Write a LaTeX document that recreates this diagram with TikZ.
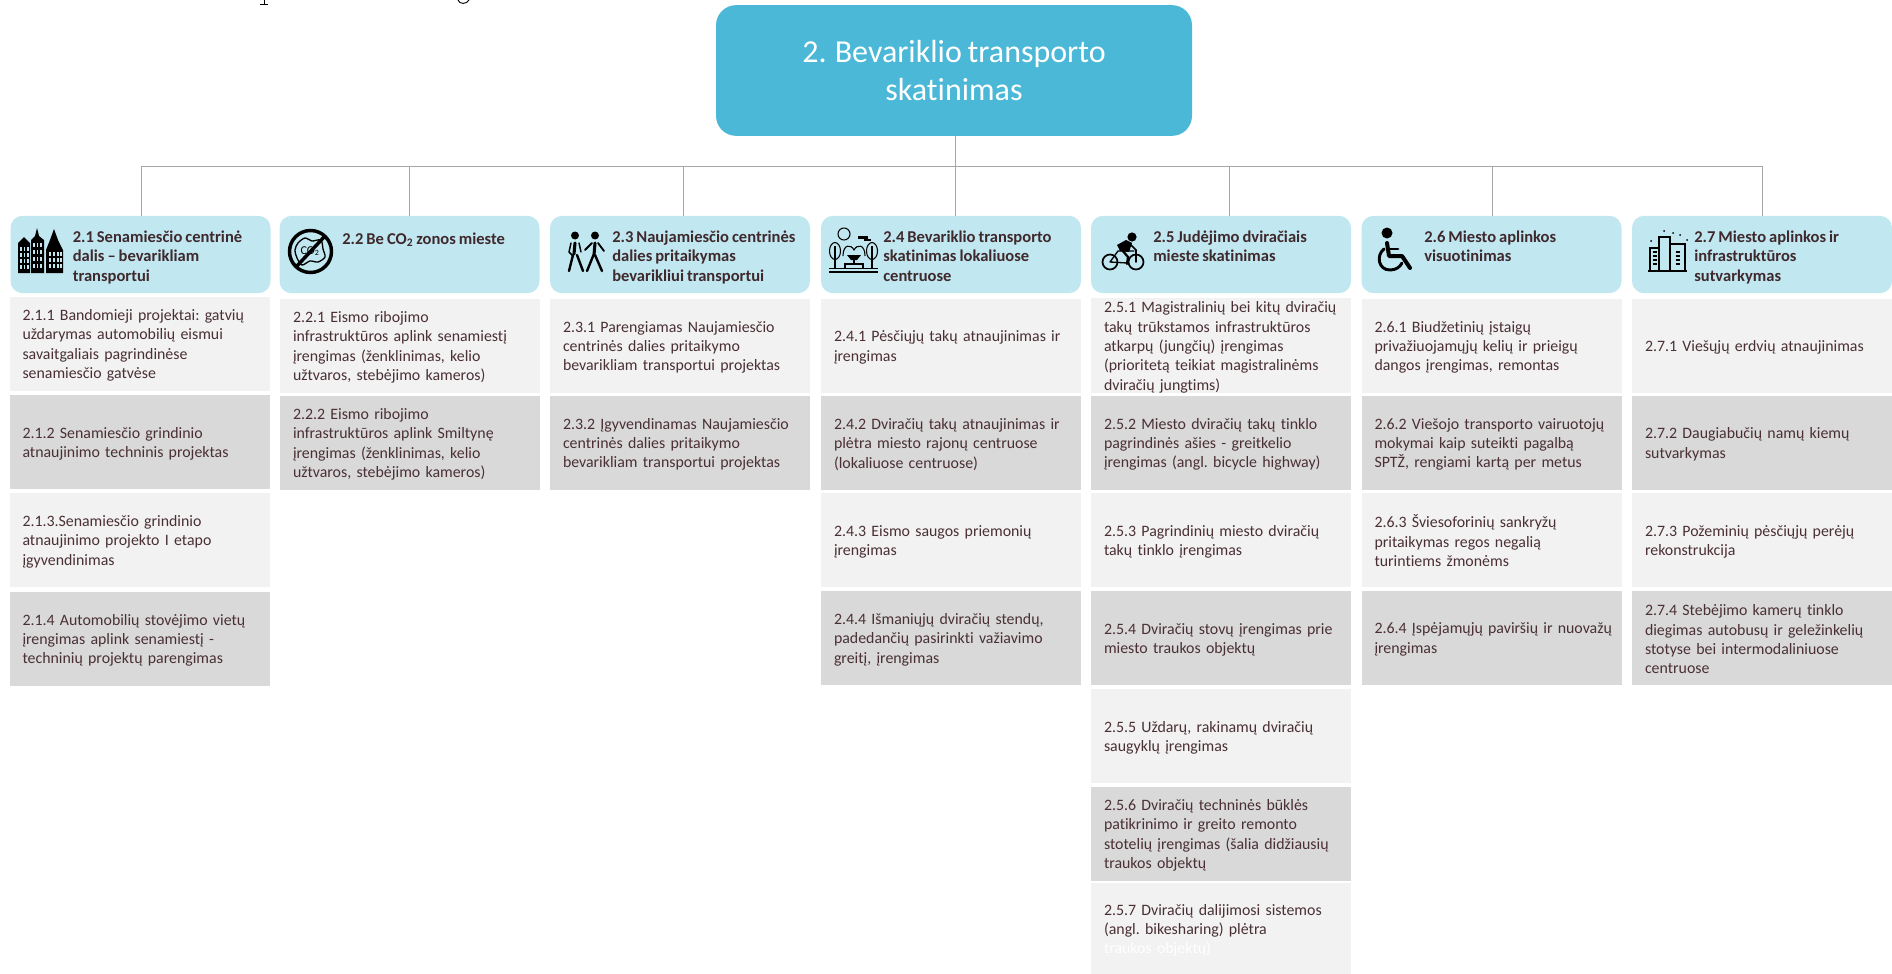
\documentclass[tikz,border=0pt]{standalone}
\usepackage{fontspec}
\setmainfont{Carlito}[WordSpace=0.8, Ligatures=NoCommon]
\usepackage{tikz}
\definecolor{rootblue}{HTML}{4AB8D6}
\definecolor{hdrblue}{HTML}{C1E7F1}
\definecolor{celllight}{HTML}{F2F2F2}
\definecolor{celldark}{HTML}{D9D9D9}
\definecolor{inkbrown}{HTML}{4A3034}
\definecolor{linegray}{HTML}{A6A6A6}
\tikzset{
  rootbox/.style={rectangle, rounded corners=15pt, fill=rootblue, text=white, minimum width=357pt, minimum height=98pt, align=center, font=\fontsize{24}{29.2}\selectfont, execute at begin node={\rule{0pt}{20pt}}},
  hdrbox/.style={rectangle, rounded corners=9pt, fill=hdrblue, minimum width=195pt, minimum height=58pt},
  hdrtext/.style={anchor=north west, inner sep=0pt, align=left, text=inkbrown!85!black, font=\fontsize{12.4}{14.5}\selectfont\bfseries, execute at begin node={\rule{0pt}{10pt}}},
  cellbase/.style={rectangle, text width=175.5pt, inner xsep=9.75pt, inner ysep=0pt, minimum height=70.5pt, align=left, text=inkbrown, font=\fontsize{11.9}{14.5}\selectfont\frenchspacing, execute at begin node={\rule{0pt}{11pt}}},
  cellA/.style={cellbase, fill=celllight},
  cellB/.style={cellbase, fill=celldark},
  conn/.style={draw=linegray, line width=0.75pt},
  icon/.style={line width=2.3pt, line cap=round, line join=round}
}
\begin{document}
\begin{tikzpicture}[x=0.75pt, y=-0.75pt]
  \useasboundingbox (0,0) rectangle (1892,974);
  \draw[line width=0.7pt] (264,0) -- (264,4);
  \draw[line width=0.6pt] (260,4.2) -- (268,4.2);
  \draw[line width=0.7pt] (458,0) .. controls (459,4.5) and (467,4.5) .. (469,0);

  \node[rootbox] (root) at (954,70.5) {2. Bevariklio transporto\\skatinimas};

  \node[hdrbox] (hdr1) at (140.5,254.5) {};
  \node[hdrbox] (hdr2) at (409.5,254.5) {};
  \node[hdrbox] (hdr3) at (680,254.5) {};
  \node[hdrbox] (hdr4) at (951,254.5) {};
  \node[hdrbox] (hdr5) at (1221,254.5) {};
  \node[hdrbox] (hdr6) at (1491.5,254.5) {};
  \node[hdrbox] (hdr7) at (1762,254.5) {};

  \coordinate (bar1) at (141,166);
  \coordinate (bar2) at (409.5,166);
  \coordinate (bar3) at (683.5,166);
  \coordinate (bar4) at (955,166);
  \coordinate (bar5) at (1229,166);
  \coordinate (bar6) at (1492,166);
  \coordinate (bar7) at (1762,166);
  \draw[conn] (bar1) -- (bar7);
  \draw[conn] (root.south -| bar4) -- (bar4);
  \draw[conn] (bar1) -- (bar1 |- hdr1.north);
  \draw[conn] (bar2) -- (bar2 |- hdr2.north);
  \draw[conn] (bar3) -- (bar3 |- hdr3.north);
  \draw[conn] (bar4) -- (bar4 |- hdr4.north);
  \draw[conn] (bar5) -- (bar5 |- hdr5.north);
  \draw[conn] (bar6) -- (bar6 |- hdr6.north);
  \draw[conn] (bar7) -- (bar7 |- hdr7.north);

  \node[hdrtext] (txt1) at (72.5,230.5) {2.1 Senamiesčio centrinė\\dalis – bevarikliam\\transportui};
  \node[hdrtext] (txt2) at (342,230.5) {2.2 Be CO\textsubscript{2} zonos mieste};
  \node[hdrtext] (txt3) at (612,230.5) {2.3 Naujamiesčio centrinės\\dalies pritaikymas\\bevarikliui transportui};
  \node[hdrtext] (txt4) at (883,230.5) {2.4 Bevariklio transporto\\skatinimas lokaliuose\\centruose};
  \node[hdrtext] (txt5) at (1153,230.5) {2.5 Judėjimo dviračiais\\mieste skatinimas};
  \node[hdrtext] (txt6) at (1424,230.5) {2.6 Miesto aplinkos\\visuotinimas};
  \node[hdrtext] (txt7) at (1694,230.5) {2.7 Miesto aplinkos ir\\infrastruktūros\\sutvarkymas};

  \node[cellA] (c11) at (139.5,343.5) {2.1.1 Bandomieji projektai: gatvių\\uždarymas automobilių eismui\\savaitgaliais pagrindinėse\\senamiesčio gatvėse};
  \node[cellB] (c12) at (139.5,442) {2.1.2 Senamiesčio grindinio\\atnaujinimo techninis projektas};
  \node[cellA] (c13) at (139.5,540) {2.1.3.Senamiesčio grindinio\\atnaujinimo projekto I etapo\\įgyvendinimas};
  \node[cellB] (c14) at (139.5,638.5) {2.1.4 Automobilių stovėjimo vietų\\įrengimas aplink senamiestį -\\techninių projektų parengimas};

  \node[cellA] (c21) at (410,345.5) {2.2.1 Eismo ribojimo\\infrastruktūros aplink senamiestį\\įrengimas (ženklinimas, kelio\\užtvaros, stebėjimo kameros)};
  \node[cellB] (c22) at (410,442.5) {2.2.2 Eismo ribojimo\\infrastruktūros aplink Smiltynę\\įrengimas (ženklinimas, kelio\\užtvaros, stebėjimo kameros)};

  \node[cellA] (c31) at (680,345.5) {2.3.1 Parengiamas Naujamiesčio\\centrinės dalies pritaikymo\\bevarikliam transportui projektas};
  \node[cellB] (c32) at (680,442.5) {2.3.2 Įgyvendinamas Naujamiesčio\\centrinės dalies pritaikymo\\bevarikliam transportui projektas};

  \node[cellA] (c41) at (951,345.5) {2.4.1 Pėsčiųjų takų atnaujinimas ir\\įrengimas};
  \node[cellB] (c42) at (951,442.5) {2.4.2 Dviračių takų atnaujinimas ir\\plėtra miesto rajonų centruose\\(lokaliuose centruose)};
  \node[cellA] (c43) at (951,540) {2.4.3 Eismo saugos priemonių\\įrengimas};
  \node[cellB] (c44) at (951,638) {2.4.4 Išmaniųjų dviračių stendų,\\padedančių pasirinkti važiavimo\\greitį, įrengimas};

  \node[cellA, execute at begin node={}] (c51) at (1221,345.5) {2.5.1 Magistralinių bei kitų dviračių\\takų trūkstamos infrastruktūros\\atkarpų (jungčių) įrengimas\\(prioritetą teikiat magistralinėms\\dviračių jungtims)};
  \node[cellB] (c52) at (1221,442.5) {2.5.2 Miesto dviračių takų tinklo\\pagrindinės ašies - greitkelio\\įrengimas (angl. bicycle highway)};
  \node[cellA] (c53) at (1221,540) {2.5.3 Pagrindinių miesto dviračių\\takų tinklo įrengimas};
  \node[cellB] (c54) at (1221,638) {2.5.4 Dviračių stovų įrengimas prie\\miesto traukos objektų};
  \node[cellA] (c55) at (1221,736) {2.5.5 Uždarų, rakinamų dviračių\\saugyklų įrengimas};
  \node[cellB] (c56) at (1221,833.5) {2.5.6 Dviračių techninės būklės\\patikrinimo ir greito remonto\\stotelių įrengimas (šalia didžiausių\\traukos objektų};
  \node[cellA, minimum height=68.25pt] (c57) at (1221,928.5) {2.5.7 Dviračių dalijimosi sistemos\\(angl. bikesharing) plėtra\\\textcolor{white}{traukos objektų)}};

  \node[cellA] (c61) at (1491.5,345.5) {2.6.1 Biudžetinių įstaigų\\privažiuojamųjų kelių ir prieigų\\dangos įrengimas, remontas};
  \node[cellB] (c62) at (1491.5,442.5) {2.6.2 Viešojo transporto vairuotojų\\mokymai kaip suteikti pagalbą\\SPTŽ, rengiami kartą per metus};
  \node[cellA] (c63) at (1491.5,540) {2.6.3 Šviesoforinių sankryžų\\pritaikymas regos negalią\\turintiems žmonėms};
  \node[cellB] (c64) at (1491.5,637.5) {\mbox{2.6.4 Įspėjamųjų paviršių ir nuovažų}\\įrengimas};

  \node[cellA] (c71) at (1762,345.5) {2.7.1 Viešųjų erdvių atnaujinimas};
  \node[cellB] (c72) at (1762,442.5) {2.7.2 Daugiabučių namų kiemų\\sutvarkymas};
  \node[cellA] (c73) at (1762,540) {2.7.3 Požeminių pėsčiųjų perėjų\\rekonstrukcija};
  \node[cellB] (c74) at (1762,637.5) {2.7.4 Stebėjimo kamerų tinklo\\diegimas autobusų ir geležinkelių\\stotyse bei intermodaliniuose\\centruose};

  \fill (18,273) -- (18,243) -- (24,237) -- (30,243) -- (30,273) -- cycle;
  \fill (31,273) -- (31,240) -- (35,236) -- (37,228) -- (39,236) -- (44,240) -- (44,273) -- cycle;
  \fill (46,273) -- (46,250) -- (50,240) -- (54,229) -- (58,240) -- (63,250) -- (63,273) -- cycle;
  \foreach \x in {20,23.5,27} \foreach \y in {247,253,259,265} \fill[hdrblue] (\x,\y) rectangle +(1.8,3.5);
  \foreach \x in {33,36.5,40} \foreach \y in {243,250,257,264} \fill[hdrblue] (\x,\y) rectangle +(1.8,4);
  \foreach \x in {48.5,52.5,56.5,60} \foreach \y in {252,258,264} \fill[hdrblue] (\x,\y) rectangle +(2,3.5);

  \draw[line width=2.6pt] (310.5,251.5) circle (21);
  \draw[line width=1pt] plot[smooth cycle] coordinates {(298,243) (305,238) (312,241) (321,240) (323,249) (325,257) (318,262) (310,261) (302,265) (297,258) (295,250)};
  \node[inner sep=0pt, font=\fontsize{9}{9}\selectfont] (co2mark) at (310,251) {CO\textsubscript{2}};
  \draw[line width=2.6pt] (325,236) -- (296,267);

  \fill (575,235.5) circle (4);
  \fill (595,235.5) circle (4);
  \draw[icon] (575,243) -- (574,254);
  \draw[icon, line width=1.8pt] (573,255) -- (569,271);
  \draw[icon, line width=1.8pt] (577,255) -- (583,271);
  \draw[icon, line width=1.1pt] (571,243) -- (569,252) -- (573,256);
  \draw[icon, line width=1.1pt] (579,243) -- (581,252);
  \draw[icon] (595,243) -- (594,255);
  \draw[icon, line width=1.8pt] (593.5,255) -- (587,271);
  \draw[icon, line width=1.8pt] (595,255) -- (602,271);
  \draw[icon, line width=1.4pt] (592,243) -- (585,250);
  \draw[icon, line width=1.4pt] (598,243) -- (604,251);

  \draw[line width=0.8pt] (844,234) circle (6);
  \fill (858,236) rectangle (868,238.5);
  \fill (864,238.5) rectangle (871,241);
  \draw[line width=0.8pt] (835,251) ellipse (5.5 and 8.5);
  \draw[line width=0.8pt] (872,251) ellipse (5.5 and 8.5);
  \draw[line width=0.8pt] (835,246) -- (835,268) (872,246) -- (872,268);
  \draw[line width=0.8pt] (843,256) .. controls (843,244) and (851,244) .. (854,250) .. controls (857,244) and (865,244) .. (865,256);
  \fill (847,255) -- (861,255) -- (857,260) -- (851,260) -- cycle;
  \draw[line width=0.9pt] (854,260) -- (854,264) (845,268) -- (845,264) -- (863,264) -- (863,268);
  \draw[line width=1pt] (829,268.5) -- (878,268.5);
  \draw[line width=0.8pt] (829,272) -- (878,272);

  \draw[line width=1.3pt] (1110,262) circle (7.5);
  \draw[line width=1.3pt] (1136,262) circle (7.5);
  \fill (1132,237) circle (4.6);
  \fill (1120,251) -- (1117,245) -- (1126,240) -- (1132,243) -- (1129,252) -- cycle;
  \draw[icon, line width=1.7pt] (1122,250) -- (1128,257) -- (1127,264);
  \draw[icon, line width=1.3pt] (1130,244) -- (1136,250) -- (1136,262);
  \draw[icon, line width=1pt] (1110,262) -- (1118,251) -- (1134,251) (1110,262) -- (1127,263);

  \fill (1387,233) circle (5.5);
  \draw[icon, line width=3pt] (1387,243) -- (1389,256) -- (1402,256) -- (1410,268);
  \draw[icon, line width=2pt] (1388,249) -- (1398,249);
  \draw[line width=2.2pt, line cap=round] (1384,249) .. controls (1376,255) and (1378,270) .. (1390,270) .. controls (1396,270) and (1400,267) .. (1402,263);

  \draw[line width=0.8pt] (1650,271) -- (1650,248) -- (1659,248) -- (1659,271);
  \draw[line width=0.8pt] (1659,248) -- (1659,237) -- (1670,237) -- (1670,244);
  \draw[line width=0.8pt] (1670,271) -- (1670,244) -- (1685,244) -- (1685,271);
  \draw[line width=1pt] (1648,271) -- (1687,271);
  \foreach \x in {1654.5,1677.5} \foreach \y in {252,256,260,264} \draw[line width=1pt] (\x-2,\y) -- (\x+2,\y);
  \foreach \x/\y in {1651/241,1664/231,1680/235,1687/240,1673/233} \fill (\x,\y) circle (1);
\end{tikzpicture}
\end{document}
